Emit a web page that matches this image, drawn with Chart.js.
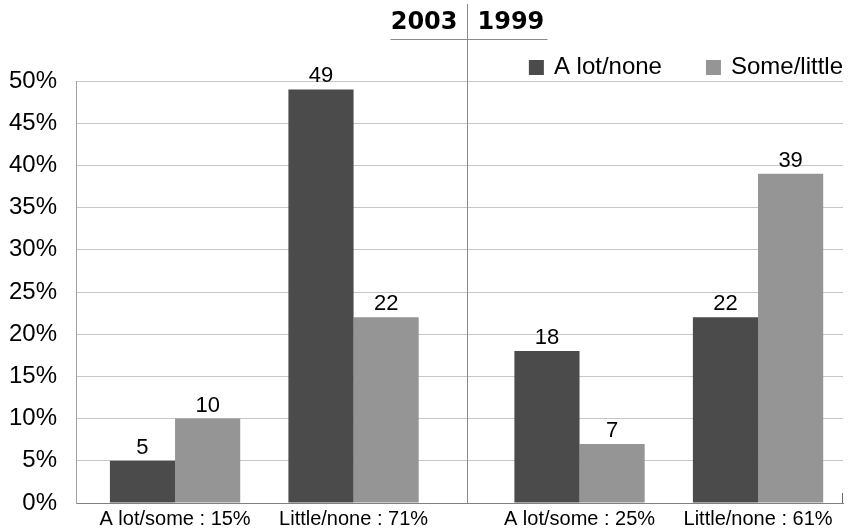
<!DOCTYPE html>
<html>
<head>
<meta charset="utf-8">
<script src="https://cdn.jsdelivr.net/npm/chart.js@4.4.0/dist/chart.umd.min.js"></script>
<style>
html,body{margin:0;padding:0;background:#fff;}
#wrap{width:851px;height:530px;position:relative;}
</style>
</head>
<body>
<div id="wrap"><canvas id="c"></canvas></div>
<script>
// ---- data ----
const categories = ["A lot/some : 15%", "Little/none : 71%", "A lot/some : 25%", "Little/none : 61%"];
const groups = ["2003", "1999"];
const groupOf = [0, 0, 1, 1];
const seriesNames = ["A lot/none", "Some/little"];
const aLotNone = [5, 49, 18, 22];
const someLittle = [10, 22, 7, 39];
const yMin = 0, yMax = 50, yStep = 5;

// ---- style ----
const DARK = '#4b4b4b';
const LIGHT = '#959595';
const FONT = '"Liberation Sans", Arial, sans-serif';
const LEFT_PAD = 0.055, GROUP_GAP = 0.266, RIGHT_PAD = -0.024;
const X_AXIS_HEIGHT = 27;

// category scale with a gap between the two survey years
class GroupedCategoryScale extends Chart.CategoryScale {
  static id = 'groupedCategory';
  static defaults = Chart.CategoryScale.defaults;
  getPixelForValue(value) {
    if (typeof value !== 'number') value = this.parse(value);
    if (value === null || value === undefined || isNaN(value)) return NaN;
    const nGroups = Math.max(...groupOf) + 1;
    const total = this.getLabels().length + LEFT_PAD + GROUP_GAP * (nGroups - 1) + RIGHT_PAD;
    const g = groupOf[Math.round(value)] || 0;
    const pos = value + 0.5 + LEFT_PAD + GROUP_GAP * g;
    return this.getPixelForDecimal(pos / total);
  }
  afterFit() {
    super.afterFit();
    this.height = X_AXIS_HEIGHT;
  }
}
Chart.register(GroupedCategoryScale);

const decorPlugin = {
  id: 'decor',
  afterDatasetsDraw(chart) {
    const ctx = chart.ctx;
    ctx.save();
    ctx.font = '22px ' + FONT;
    ctx.fillStyle = '#000';
    ctx.textAlign = 'center';
    ctx.textBaseline = 'alphabetic';
    chart.data.datasets.forEach((ds, di) => {
      const meta = chart.getDatasetMeta(di);
      meta.data.forEach((bar, i) => {
        ctx.fillText(String(ds.data[i]), bar.x, bar.y - 7);
      });
    });
    ctx.restore();
  },
  afterDraw(chart) {
    const ctx = chart.ctx;
    const x = chart.scales.x;
    const area = chart.chartArea;
    const divX = Math.round((x.getPixelForValue(1) + x.getPixelForValue(2)) / 2) + 0.5;
    ctx.save();
    ctx.strokeStyle = '#8a8a8a';
    ctx.lineWidth = 1;
    ctx.beginPath(); ctx.moveTo(divX, 4); ctx.lineTo(divX, area.bottom); ctx.stroke();
    ctx.beginPath(); ctx.moveTo(divX - 77, 39.5); ctx.lineTo(divX + 80, 39.5); ctx.stroke();
    // small tick at right end of x axis
    ctx.strokeStyle = '#666';
    ctx.beginPath(); ctx.moveTo(Math.round(area.right) - 0.5, area.bottom - 10); ctx.lineTo(Math.round(area.right) - 0.5, area.bottom); ctx.stroke();
    // header years
    ctx.font = 'bold 24px "DejaVu Sans", sans-serif';
    ctx.fillStyle = '#000';
    ctx.textBaseline = 'alphabetic';
    ctx.textAlign = 'right'; ctx.fillText(groups[0], divX - 10, 29);
    ctx.textAlign = 'left'; ctx.fillText(groups[1], divX + 10, 29);
    // legend
    ctx.font = '24px ' + FONT;
    ctx.textBaseline = 'middle';
    ctx.textAlign = 'left';
    const cy = 67.5, box = 15, gapBox = 10, gapItem = 44;
    const ds = chart.data.datasets;
    let xr = area.right;
    const pos = [];
    for (let i = ds.length - 1; i >= 0; i--) {
      const w = ctx.measureText(ds[i].label).width;
      const tx = xr - w;
      const bx = tx - gapBox - box;
      pos[i] = {tx, bx};
      xr = bx - gapItem;
    }
    ds.forEach((d, i) => {
      ctx.fillStyle = d.backgroundColor;
      ctx.fillRect(pos[i].bx, cy - box / 2, box, box);
      ctx.fillStyle = '#000';
      ctx.fillText(d.label, pos[i].tx, cy);
    });
    ctx.restore();
  }
};

new Chart(document.getElementById('c'), {
  type: 'bar',
  data: {
    labels: categories,
    datasets: [
      { label: seriesNames[0], data: aLotNone, backgroundColor: DARK },
      { label: seriesNames[1], data: someLittle, backgroundColor: LIGHT }
    ]
  },
  options: {
    responsive: true,
    maintainAspectRatio: false,
    animation: false,
    events: [],
    layout: { padding: { top: 81, right: 8, left: 0, bottom: 0 } },
    datasets: { bar: { categoryPercentage: 0.73, barPercentage: 1.0 } },
    plugins: { legend: { display: false }, tooltip: { enabled: false }, title: { display: false } },
    scales: {
      x: {
        type: 'groupedCategory',
        offset: true,
        grid: { display: false, drawTicks: false },
        border: { display: true, color: '#808080', width: 1 },
        ticks: { color: '#000', font: { family: FONT, size: 20 }, padding: 4, maxRotation: 0, autoSkip: false }
      },
      y: {
        min: yMin, max: yMax,
        grid: { color: '#c6c6c6', drawTicks: false, lineWidth: 1 },
        border: { display: true, color: '#a0a0a0', width: 1 },
        ticks: { stepSize: yStep, color: '#000', font: { family: FONT, size: 24, lineHeight: 0.6 }, padding: 19,
                 callback: v => v + '%' },
        afterFit(scale) { scale.width = 76; }
      }
    }
  },
  plugins: [decorPlugin]
});
</script>
</body>
</html>
